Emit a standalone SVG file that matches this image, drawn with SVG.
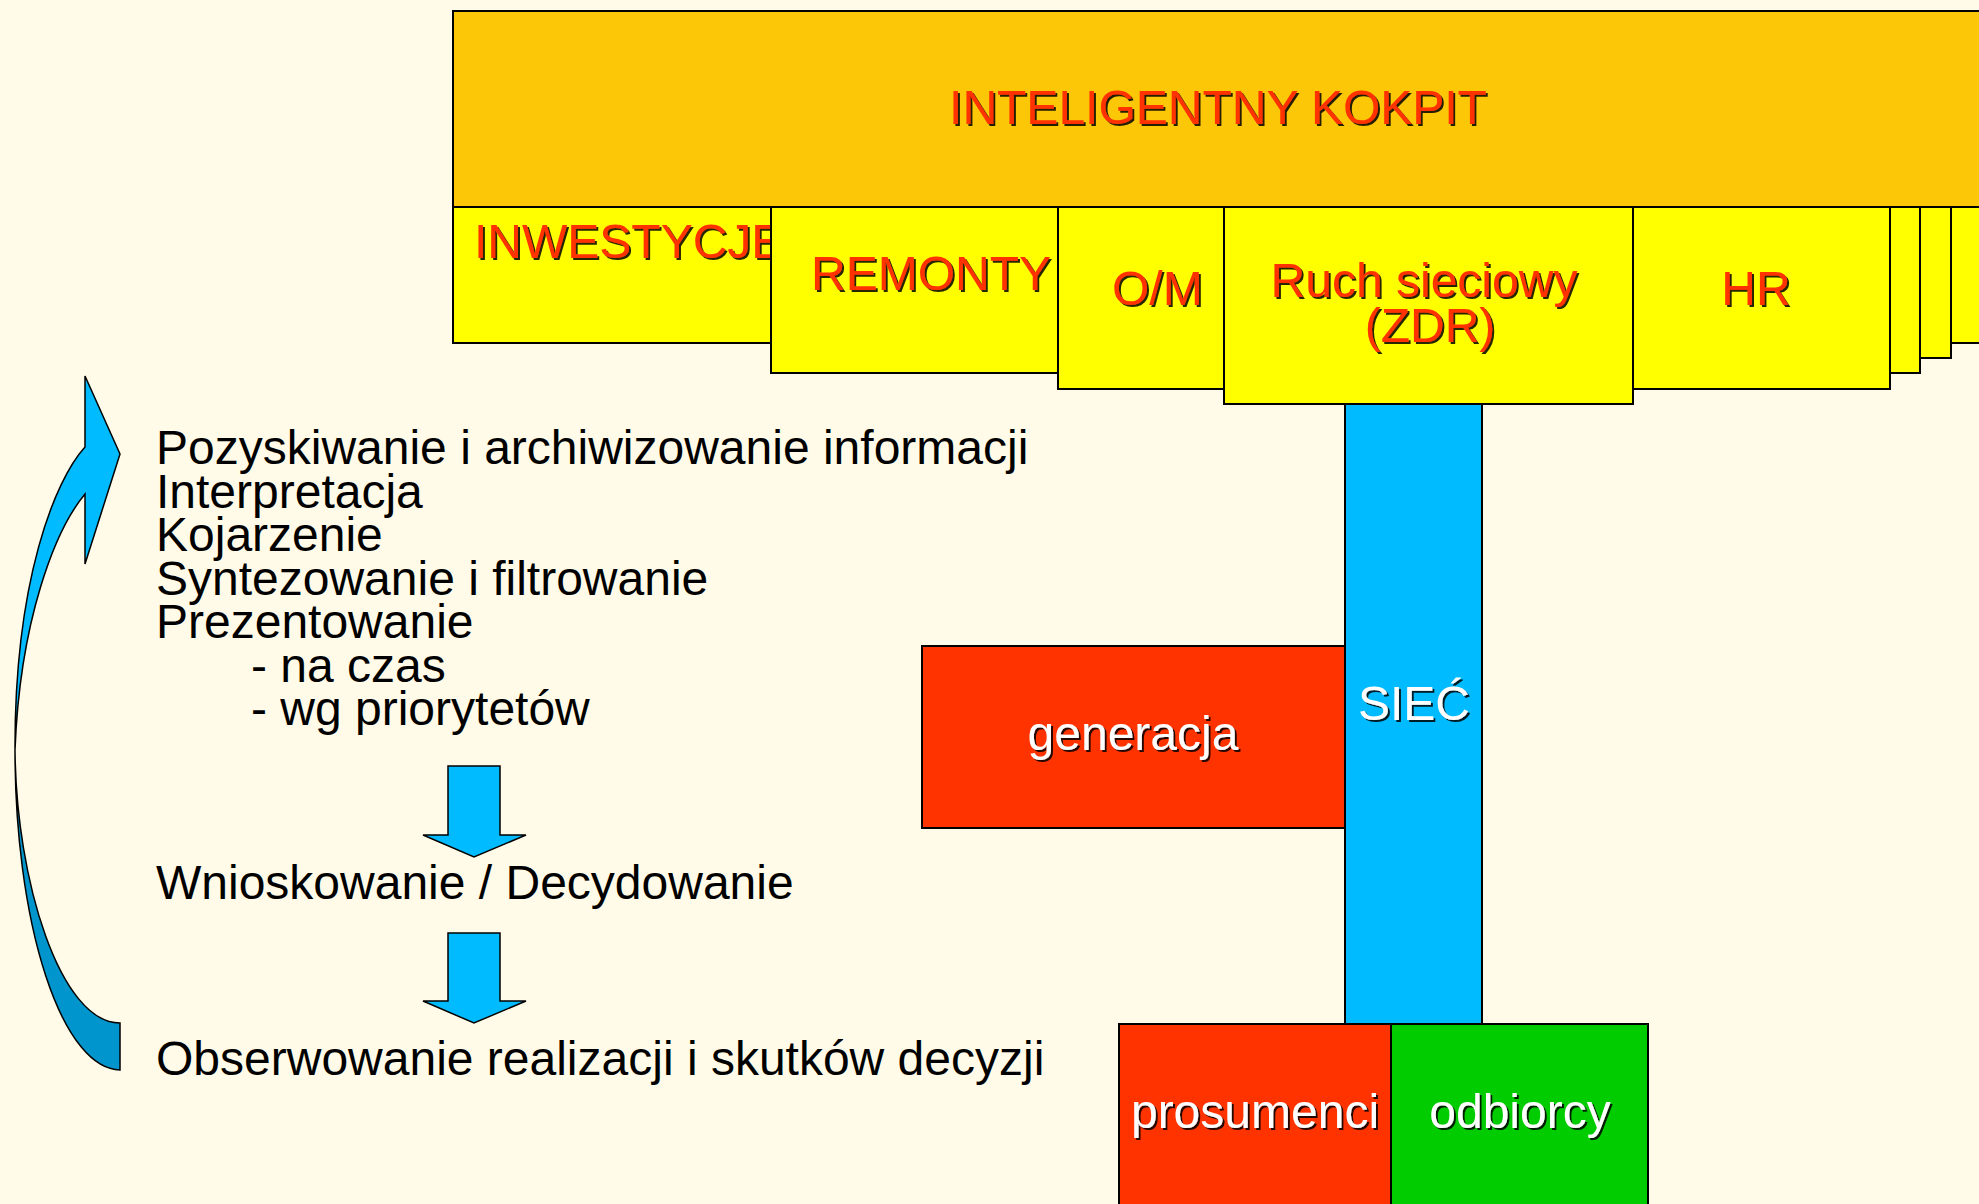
<svg xmlns="http://www.w3.org/2000/svg" width="1979" height="1204" viewBox="0 0 1979 1204">
<defs>
<style>
.box{stroke:#000;stroke-width:2}
.yel{fill:#FFFF00}
.lbl{font-family:"Liberation Sans",Arial,sans-serif;font-size:48px}
.red{fill:#FF3300}
.wht{fill:#FFFFFF}
.blk{fill:#000000}
.blue{fill:#00BBFF}
.arr{stroke:#000;stroke-width:1.5;stroke-linejoin:miter}
</style>
<filter id="sh" x="-5%" y="-20%" width="115%" height="150%">
<feDropShadow dx="2" dy="2" stdDeviation="0" flood-color="#000" flood-opacity="0.85"/>
</filter>
</defs>
<rect x="0" y="0" width="1979" height="1204" fill="#FFFBE8"/>

<g id="side-boxes">
<rect class="box yel" x="1951" y="207" width="40" height="136"/>
<rect class="box yel" x="1920" y="207" width="31" height="151"/>
<rect class="box yel" x="1890" y="207" width="30" height="166"/>
</g>
<g id="hr">
<rect class="box yel" x="1633" y="207" width="257" height="182"/>
<text class="lbl red" x="1756" y="305" text-anchor="middle" filter="url(#sh)">HR</text>
</g>
<g id="inwestycje">
<rect class="box yel" x="453" y="207" width="318" height="136"/>
<text class="lbl red" x="474" y="258" filter="url(#sh)">INWESTYCJE</text>
</g>
<g id="remonty">
<rect class="box yel" x="771" y="207" width="287" height="166"/>
<text class="lbl red" x="811" y="290" filter="url(#sh)">REMONTY</text>
</g>
<g id="om">
<rect class="box yel" x="1058" y="207" width="166" height="182"/>
<text class="lbl red" x="1112" y="305" filter="url(#sh)">O/M</text>
</g>
<g id="ruch">
<rect class="box yel" x="1224" y="207" width="409" height="197"/>
<text class="lbl red" x="1424" y="297" text-anchor="middle" filter="url(#sh)">Ruch sieciowy</text>
<text class="lbl red" x="1430" y="342" text-anchor="middle" filter="url(#sh)">(ZDR)</text>
</g>
<g id="kokpit">
<rect class="box" x="453" y="11" width="1540" height="196" fill="#FCC707"/>
<text class="lbl red" x="1218" y="124" text-anchor="middle" filter="url(#sh)">INTELIGENTNY KOKPIT</text>
</g>

<g id="siec">
<rect class="box blue" x="1345" y="404" width="137" height="620"/>
<text class="lbl wht" x="1414" y="720" text-anchor="middle" filter="url(#sh)">SIEĆ</text>
</g>
<g id="generacja">
<rect class="box red" x="922" y="646" width="423" height="182"/>
<text class="lbl wht" x="1133" y="750" text-anchor="middle" filter="url(#sh)">generacja</text>
</g>
<g id="prosumenci">
<rect class="box red" x="1119" y="1024" width="272" height="200"/>
<text class="lbl wht" x="1255" y="1128" text-anchor="middle" filter="url(#sh)">prosumenci</text>
</g>
<g id="odbiorcy">
<rect class="box" x="1391" y="1024" width="257" height="200" fill="#00CC00"/>
<text class="lbl wht" x="1520" y="1128" text-anchor="middle" filter="url(#sh)">odbiorcy</text>
</g>

<g id="process-text" class="lbl blk">
<text x="156" y="464">Pozyskiwanie i archiwizowanie informacji</text>
<text x="156" y="507.5">Interpretacja</text>
<text x="156" y="551">Kojarzenie</text>
<text x="156" y="594.5">Syntezowanie i filtrowanie</text>
<text x="156" y="638">Prezentowanie</text>
<text x="251" y="681.5">- na czas</text>
<text x="251" y="725">- wg priorytetów</text>
<text x="156" y="899">Wnioskowanie / Decydowanie</text>
<text x="156" y="1075">Obserwowanie realizacji i skutków decyzji</text>
</g>

<g id="connectors">
<polygon class="arr blue" points="448,766 500,766 500,835 526,835 474,857 423,835 448,835"/>
<polygon class="arr blue" points="448,933 500,933 500,1001 526,1001 474,1023 423,1001 448,1001"/>
<path class="arr" fill="#0095CC" d="M15,750 A105.5 320 0 0 0 120,1070 L120,1023 C60,1023 16,880 15,750 Z"/>
<path class="arr blue" d="M85,376 L120,454 L85,564 L85,494 C55,530 20,620 15,750 C14.5,580 55,480 85,447 Z"/>
</g>
</svg>
